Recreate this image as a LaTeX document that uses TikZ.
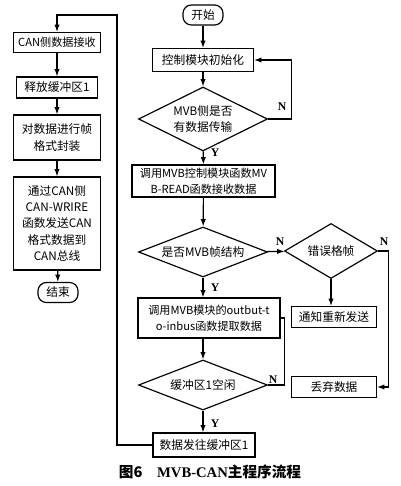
\documentclass[tikz,border=0pt]{standalone}
\usepackage{fontspec}
\setmainfont{Noto Sans CJK SC}
\newfontfamily\lserif{Liberation Serif}
\usetikzlibrary{arrows.meta, shapes.geometric}

\begin{document}
\begin{tikzpicture}[x=0.03cm, y=-0.03cm,
    box/.style={rectangle, draw=black, line width=1pt, align=center, inner sep=1pt, font=\fontsize{10}{14}\selectfont},
    term/.style={rectangle, rounded corners=2.5mm, draw=black, line width=1pt, minimum width=1.2cm, minimum height=0.6cm, font=\fontsize{10}{14}\selectfont},
    dec/.style={diamond, draw=black, line width=1pt, align=center, inner sep=0pt, minimum width=3.87cm, font=\fontsize{10}{14}\selectfont},
    arrow/.style={-{Latex[length=2.2mm, width=1.6mm]}, line width=1pt},
    line/.style={line width=1pt},
    yn/.style={font=\lserif\bfseries}
]
\useasboundingbox (0,0) rectangle (400,486);

\node[box, minimum width=2.61cm, minimum height=0.6cm, font=\fontsize{9.5}{14}\selectfont] (can) at (57,42.5) {CAN侧数据接收};
\node[box, minimum width=2.43cm, minimum height=0.63cm] (rel) at (57,87.5) {释放缓冲区1};
\node[box, minimum width=2.61cm, minimum height=1.35cm] (pack) at (57,137.5) {对数据进行帧\\格式封装};
\node[box, minimum width=2.61cm, minimum height=2.79cm] (send) at (57,223.5) {通过CAN侧\\CAN-WRIRE\\函数发送CAN\\格式数据到\\CAN总线};
\node[term] (fin) at (58,292.5) {结束};

\node[term] (start) at (203,15) {开始};
\node[box, minimum width=3.03cm, minimum height=0.69cm] (init) at (203,60) {控制模块初始化};
\node[dec, minimum height=1.92cm, aspect=2] (d1) at (203,119) {MVB侧是否\\有数据传输};
\node[box, minimum width=4.29cm, minimum height=0.96cm, inner sep=2pt, font=\fontsize{9.5}{14}\selectfont] (read) at (203.5,181) {调用MVB控制模块函数MV\\B-READ函数接收数据};
\node[dec, minimum height=1.5cm, aspect=2.6] (d2) at (203,252) {是否MVB帧结构};
\node[dec, minimum width=2.79cm, minimum height=1.65cm, aspect=1.7] (err) at (331,251) {错误格帧};
\node[box, minimum width=2.55cm, minimum height=0.63cm] (notify) at (334,317) {通知重新发送};
\node[box, minimum width=2.55cm, minimum height=0.63cm] (drop) at (334,387) {丢弃数据};
\node[box, minimum width=4.26cm, minimum height=1.2cm, inner sep=2pt, font=\fontsize{9.5}{14}\selectfont] (fetch) at (209,318) {调用MVB模块的outbut-t\\o-inbus函数提取数据};
\node[dec, minimum height=1.5cm, aspect=2.6] (d3) at (203,385) {缓冲区1空闲};
\node[box, minimum width=3.06cm, minimum height=0.72cm] (buf) at (204,445) {数据发往缓冲区1};

\node[yn] (y1) at (215,153) {Y};
\node[yn] (y2) at (215,288) {Y};
\node[yn] (y3) at (215,424) {Y};
\node[yn] (n1) at (282,107) {N};
\node[yn] (n2) at (280,242) {N};
\node[yn] (n3) at (384,242) {N};
\node[yn] (n4) at (273,380) {N};

\node[font=\fontsize{12.5}{15}\selectfont\bfseries] (cap) at (210,472) {图6\quad {\lserif MVB-CAN}主程序流程};

\draw[arrow] (can) -- (rel);
\draw[arrow] (rel) -- (pack);
\draw[arrow] (pack) -- (send);
\draw[arrow] (send) -- (fin);

\draw[arrow] (start) -- (init);
\draw[arrow] (init) -- (d1);
\draw[arrow] (d1) -- (read);
\draw[arrow] (read) -- (d2);
\draw[arrow] (d2.south) -- (d2.south |- fetch.north);
\draw[arrow] (fetch.south -| d3.north) -- (d3.north);
\draw[arrow] (d3.south) -- (d3.south |- buf.north);
\draw[arrow] (d2) -- (err);
\draw[arrow] (err.south) -- (err.south |- notify.north);
\draw[arrow] (d1.east) -- ++(23,0) |- (init.east);
\draw[arrow] (err.east) -- ++(10,0) |- (drop.east);
\draw[line] (d3.east) -- ++(16,0) |- (fetch.east);
\coordinate (back) at (117,15);
\draw[arrow] (buf.west) -| (back) -| (can.north);
\end{tikzpicture}
\end{document}
